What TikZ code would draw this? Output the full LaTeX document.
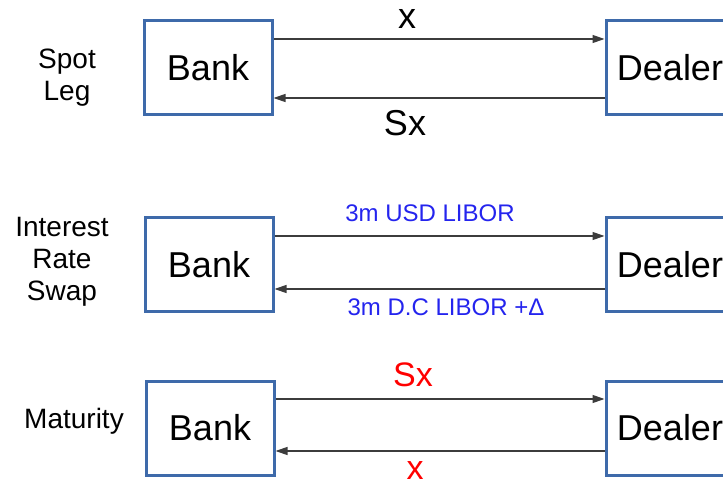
\documentclass[tikz,border=0pt]{standalone}
\usepackage{fontspec}
\setmainfont{Liberation Sans}
\usetikzlibrary{arrows.meta}
\definecolor{boxblue}{RGB}{62,106,170}
\definecolor{ratetext}{RGB}{36,36,238}
\definecolor{flowgray}{RGB}{60,60,60}
\begin{document}
\begin{tikzpicture}[
	x=1pt, y=1pt,
	party/.style={ draw=boxblue, line width=3pt, minimum width=128pt, minimum height=94pt, inner sep=0pt, font=\fontsize{36}{40}\selectfont },
	leg/.style={ align=center, font=\fontsize{28}{32}\selectfont },
	flow/.style={ draw=flowgray, line width=1.2pt, -{Triangle[length=12pt,width=8pt]} },
	amt/.style={ inner sep=0pt, font=\fontsize{36}{40}\selectfont },
	amtr/.style={ red, inner sep=0pt, font=\fontsize{34}{40}\selectfont },
	rate/.style={ ratetext, font=\fontsize{24}{28}\selectfont }
]
\useasboundingbox (0,0) rectangle (723,-486);
\clip (0,0) rectangle (723,-486);

\node at (67,-78) (lspot) [leg] {Spot\\Leg};
\node at (208,-68) (bank1) [party] {Bank};
\node at (670,-68) (dealer1) [party] {Dealer};
\draw[flow] ([yshift=29pt]bank1.east) to ([yshift=29pt]dealer1.west);
\draw[flow] ([yshift=-30pt]dealer1.west) to ([yshift=-30pt]bank1.east);
\node at (407,-19) (x1) [amt] {x};
\node at (405,-123) (sx1) [amt] {Sx};

\node at (62,-262) (lswap) [leg] {Interest\\Rate\\Swap};
\node at (209,-265) (bank2) [party] {Bank};
\node at (670,-265) (dealer2) [party] {Dealer};
\draw[flow] ([yshift=29pt]bank2.east) to ([yshift=29pt]dealer2.west);
\draw[flow] ([yshift=-24pt]dealer2.west) to ([yshift=-24pt]bank2.east);
\node at (430,-213) (usd) [rate] {3m USD LIBOR};
\node at (446,-307) (dc) [rate] {3m D.C LIBOR +Δ};

\node at (74,-421) (lmat) [leg] {Maturity};
\node at (210,-428) (bank3) [party] {Bank};
\node at (670,-428) (dealer3) [party] {Dealer};
\draw[flow] ([yshift=29pt]bank3.east) to ([yshift=29pt]dealer3.west);
\draw[flow] ([yshift=-23pt]dealer3.west) to ([yshift=-23pt]bank3.east);
\node at (413,-375) (sx3) [amtr] {Sx};
\node at (415,-471) (x3) [amtr] {x};

\end{tikzpicture}
\end{document}
